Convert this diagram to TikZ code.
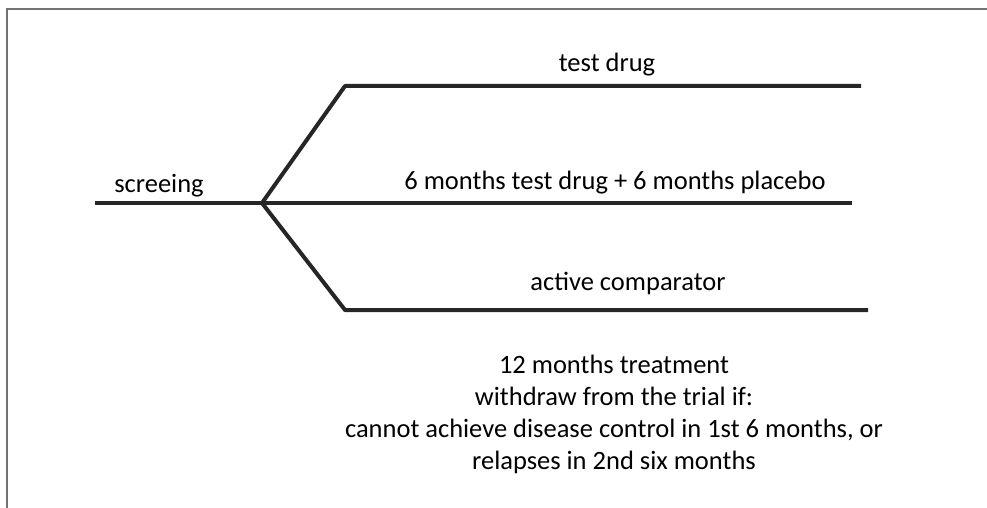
\documentclass[tikz,border=0pt]{standalone}
\usepackage{fontspec}
\setmainfont{Carlito}
\begin{document}
\begin{tikzpicture}[x=1pt,y=-1pt,
  branch/.style={line width=4pt,draw=black!85,line join=round},
  frameline/.style={line width=2pt,draw=black!55},
  lbl/.style={anchor=base,inner sep=0pt,font=\fontsize{26.5}{32}\selectfont},
  note/.style={align=center,anchor=north,inner sep=0pt,font=\fontsize{26.5}{32}\selectfont}]
\useasboundingbox (0,0) rectangle (987,508);
\draw[frameline] (7,508) -- (7,9) -- (987,9);
\coordinate (s0) at (95,203);
\coordinate (j) at (262,203);
\coordinate (t0) at (345,86);
\coordinate (t1) at (861,86);
\coordinate (m1) at (852,203);
\coordinate (b0) at (345,310);
\coordinate (b1) at (868,310);
\draw[branch] (s0) -- (j);
\draw[branch] (j) -- (t0) -- (t1);
\draw[branch] (j) -- (m1);
\draw[branch] (j) -- (b0) -- (b1);
\node[lbl] (scr) at (159,192) {screeing};
\node[lbl] (td) at (607,72) {test drug};
\node[lbl] (pl) at (615,189) {6 months test drug + 6 months placebo};
\node[lbl] (ac) at (628,290) {active comparator};
\node[note] (nt) at (614,355) {12 months treatment\\withdraw from the trial if:\\cannot achieve disease control in 1st 6 months, or\\relapses in 2nd six months};
\end{tikzpicture}
\end{document}
